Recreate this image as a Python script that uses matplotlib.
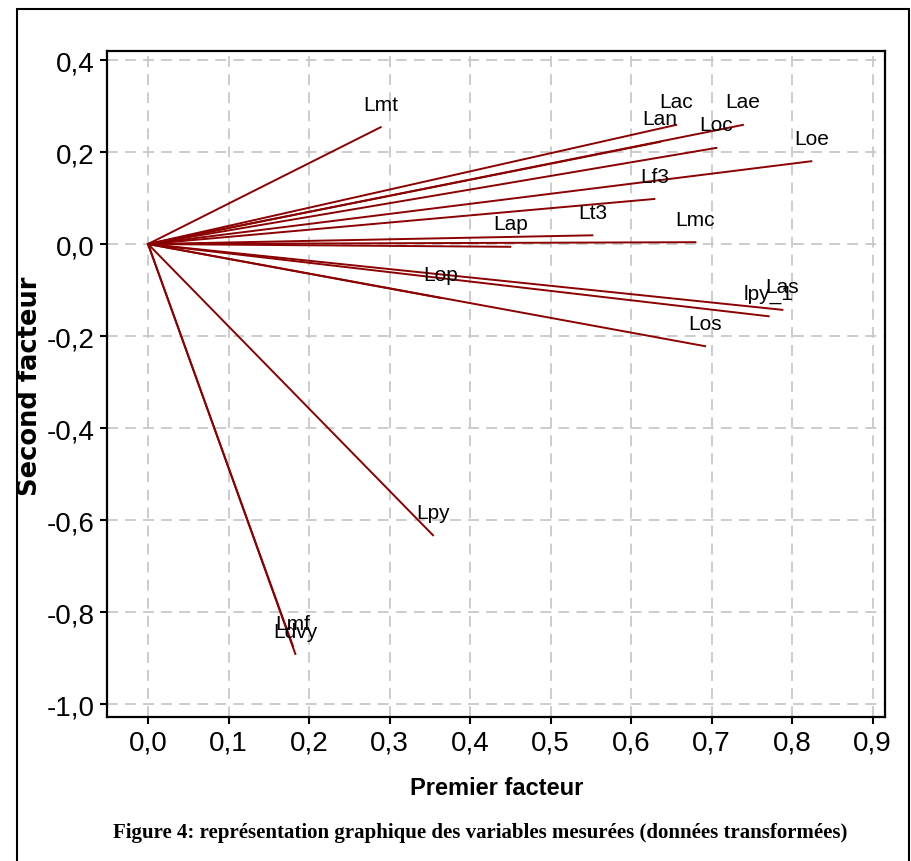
import matplotlib
matplotlib.use('Agg')
import matplotlib.pyplot as plt
from matplotlib.patches import Rectangle

# Coordonnées des variables sur les deux premiers facteurs
noms = ['Lmt', 'Lac', 'Lan', 'Lae', 'Loc', 'Loe', 'Lf3', 'Lt3', 'Lap', 'Lmc',
        'Lop', 'Las', 'lpy_1', 'Los', 'Lpy', 'Lmf', 'Ldvy']
facteur1 = [0.289, 0.656, 0.636, 0.739, 0.706, 0.824, 0.629, 0.552, 0.450, 0.680,
            0.363, 0.788, 0.771, 0.692, 0.354, 0.180, 0.183]
facteur2 = [0.254, 0.259, 0.222, 0.259, 0.209, 0.180, 0.098, 0.019, -0.006, 0.004,
            -0.117, -0.143, -0.157, -0.222, -0.633, -0.874, -0.891]

xticks = [0.0, 0.1, 0.2, 0.3, 0.4, 0.5, 0.6, 0.7, 0.8, 0.9]
yticks = [0.4, 0.2, 0.0, -0.2, -0.4, -0.6, -0.8, -1.0]

narrow = ['Liberation Sans', 'DejaVu Sans']

fig = plt.figure(figsize=(9.11, 8.62), dpi=100)
ax = fig.add_axes([107/911, 1 - 718/862, (885 - 107)/911, (718 - 52)/862])

for nom, x, y in zip(noms, facteur1, facteur2):
    ax.plot([0, x], [0, y], color='#8b0000', linewidth=1.4, zorder=3)
    ax.annotate(nom, (x, y), xytext=(0, 16.5), textcoords='offset points',
                ha='center', va='center', fontsize=15, family=narrow, zorder=4)

ax.set_xlim(-0.051, 0.9155)
ax.set_ylim(-1.028, 0.4196)
ax.set_xticks(xticks)
ax.set_yticks(yticks)
ax.set_xticklabels([f'{v:.1f}'.replace('.', ',') for v in xticks], family=narrow, fontsize=20)
ax.set_yticklabels([f'{v:.1f}'.replace('.', ',') for v in yticks], family=narrow, fontsize=20)
ax.tick_params(direction='out', length=5, width=1.5, pad=4)
ax.grid(True, color='#c8c8c8', linestyle=(0, (6, 4)), linewidth=1.3)
ax.set_axisbelow(True)
for s in ax.spines.values():
    s.set_linewidth(1.6)

fig.text(497/911, 1 - 789/862, 'Premier facteur', ha='center', va='center',
         fontsize=17, fontweight='bold', family=narrow)
fig.text(30/911, 1 - 386/862, 'Second facteur', ha='center', va='center',
         rotation=90, fontsize=18.5, fontweight='bold')
fig.text(480/911, 1 - 833/862,
         'Figure 4: représentation graphique des variables mesurées (données transformées)',
         ha='center', va='center', fontsize=15, fontweight='bold', family='Liberation Serif')

fig.patches.append(Rectangle((17/911, -0.01), (909 - 17)/911, 1.004 - 5/862,
                             transform=fig.transFigure, fill=False,
                             edgecolor='black', linewidth=1.5))

fig.savefig('out.png', dpi=100)
